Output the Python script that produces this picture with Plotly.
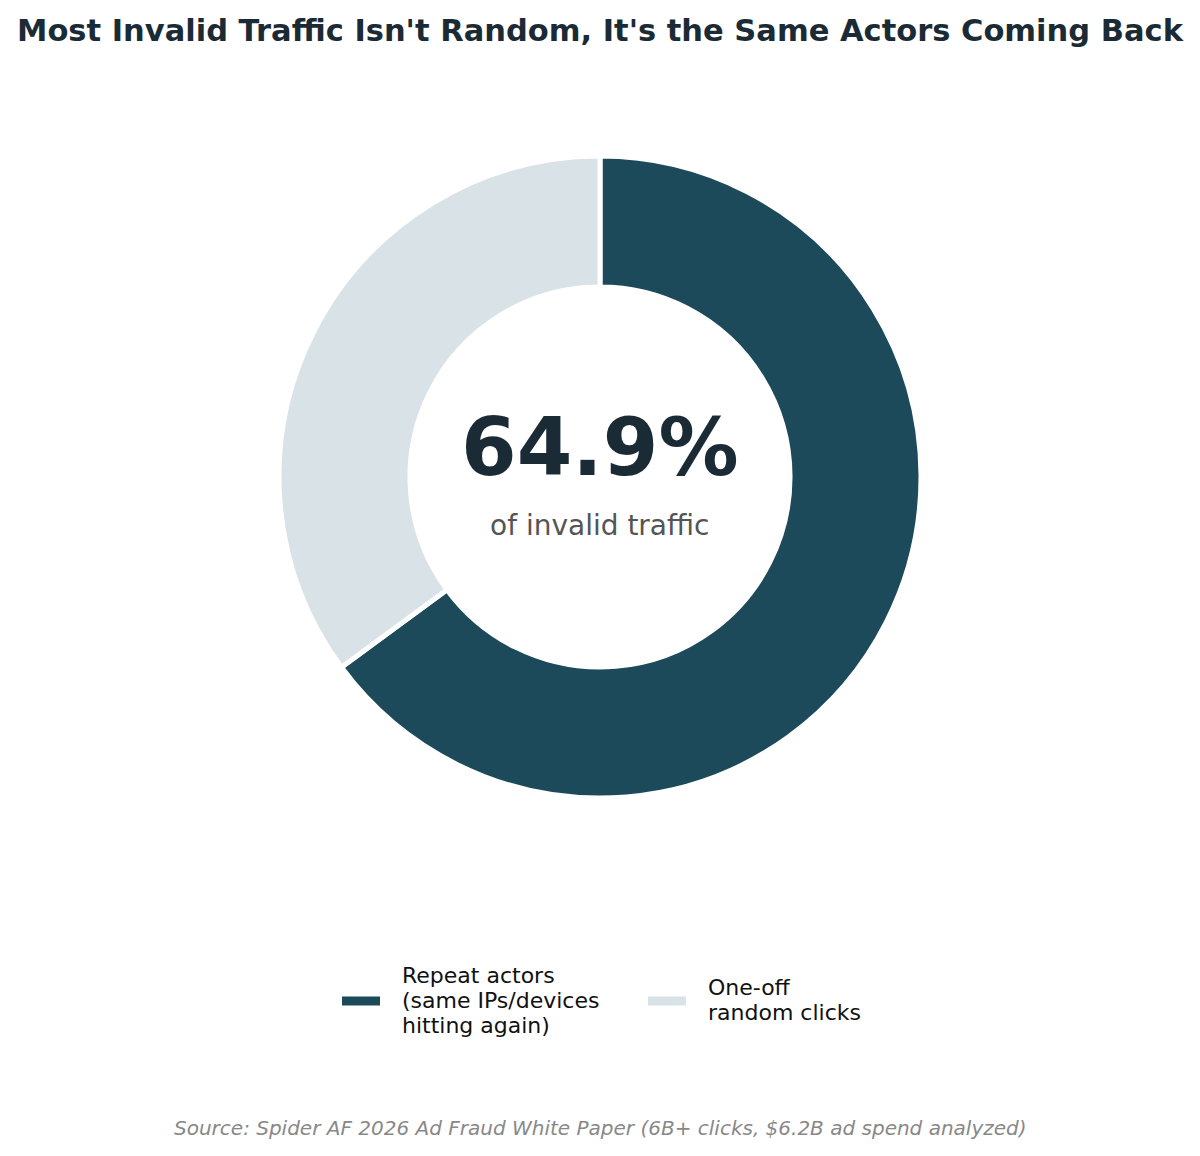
import plotly.graph_objects as go

labels = ["Repeat actors<br>(same IPs/devices<br>hitting again)", "One-off<br>random clicks"]
shares = [64.9, 35.1]
colors = ["#1c4a5a", "#d9e2e7"]

W, H = 1200, 1156
FONT = "DejaVu Sans"
OFF = 8  # page body margin


def px(x):
    return (x - OFF) / W


def py(y):
    return (H - (y - OFF)) / H


fig = go.Figure()
fig.add_trace(go.Pie(
    labels=labels, values=shares, hole=0.592, sort=False,
    direction="clockwise", rotation=0,
    marker=dict(colors=colors, line=dict(color="white", width=5)),
    textinfo="none", hoverinfo="label+percent", showlegend=False,
    domain=dict(x=[px(279), px(921)], y=[py(798), py(156)]),
))

# centre label
fig.add_annotation(x=px(600), y=py(447), xref="paper", yref="paper",
                   text="<b>%.1f%%</b>" % shares[0], showarrow=False, yanchor="middle",
                   font=dict(family=FONT, size=80, color="#1b2b35"))
fig.add_annotation(x=px(600), y=py(525), xref="paper", yref="paper",
                   text="of invalid traffic", showarrow=False, yanchor="middle",
                   font=dict(family=FONT, size=28, color="#555555"))

# legend drawn by hand so the swatches can be lines
leg_x = [342, 648]
for lab, col, x0 in zip(labels, colors, leg_x):
    fig.add_shape(type="line", xref="paper", yref="paper",
                  x0=px(x0), x1=px(x0 + 38), y0=py(1001), y1=py(1001),
                  line=dict(color=col, width=9))
    lines = lab.split("<br>")
    top = 1000 - 25 * (len(lines) - 1) / 2
    for i, ln in enumerate(lines):
        fig.add_annotation(x=px(x0 + 58), y=py(top + 25 * i), xref="paper", yref="paper",
                           text=ln, showarrow=False, xanchor="left", yanchor="middle",
                           font=dict(family=FONT, size=22, color="#111111"))

fig.add_annotation(x=px(600), y=py(1128), xref="paper", yref="paper",
                   text="<i>Source: Spider AF 2026 Ad Fraud White Paper (6B+ clicks, $6.2B ad spend analyzed)</i>",
                   showarrow=False, xanchor="center", yanchor="middle",
                   font=dict(family=FONT, size=20, color="#888888"))

fig.update_layout(
    width=W, height=H,
    margin=dict(l=0, r=0, t=0, b=0),
    paper_bgcolor="white", plot_bgcolor="white",
    title=dict(text="<b>Most Invalid Traffic Isn't Random, It's the Same Actors Coming Back</b>",
               x=px(600), xanchor="center", y=py(30), yanchor="middle",
               font=dict(family=FONT, size=30.5, color="#1b2b35")),
)

fig.write_html("out.html")
